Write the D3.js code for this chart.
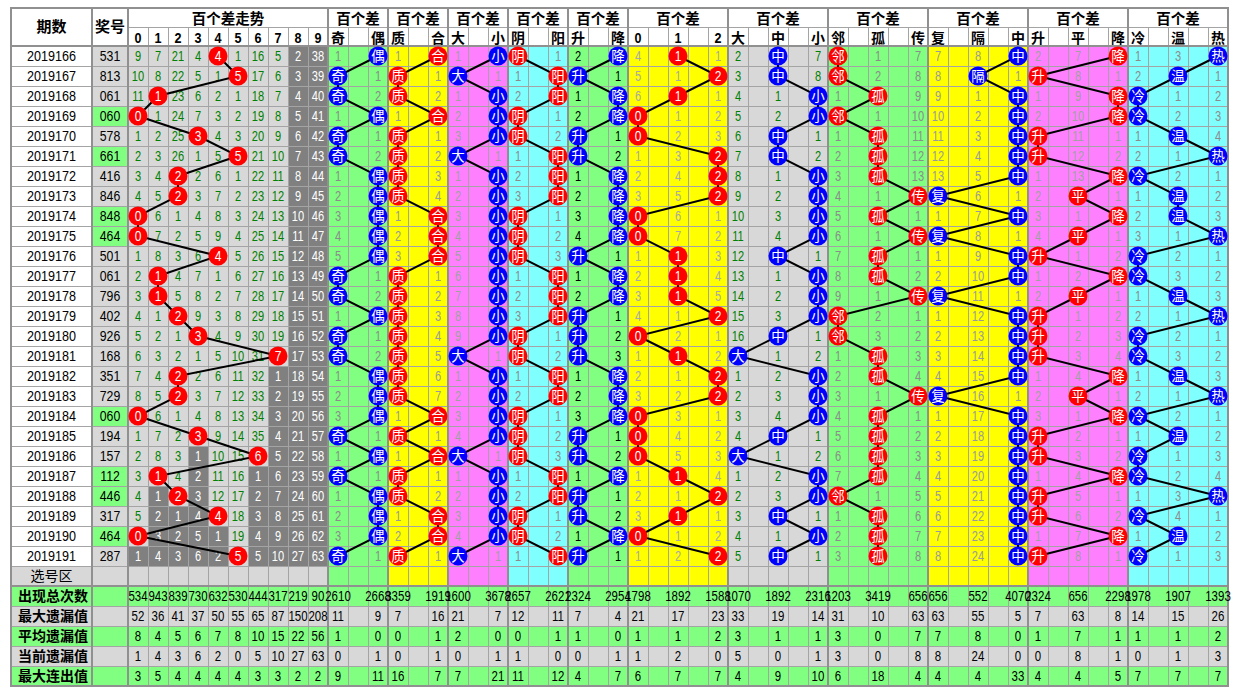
<!DOCTYPE html>
<html lang="zh">
<head>
<meta charset="UTF-8">
<title>百个差走势</title>
<script src="https://d3js.org/d3.v7.min.js"></script>
<style>
  body { margin: 0; background: #fff; }
  svg text { font-family: "Liberation Sans", Arial, sans-serif; }
  svg text.cjk { font-family: "Noto Sans CJK SC", "Noto Sans", sans-serif; }
</style>
</head>
<body>
<svg width="1243" height="698"></svg>
<script>
// ---- data ----
const periods = ['2019166','2019167','2019168','2019169','2019170','2019171','2019172','2019173','2019174',
  '2019175','2019176','2019177','2019178','2019179','2019180','2019181','2019182','2019183','2019184',
  '2019185','2019186','2019187','2019188','2019189','2019190','2019191'];
const draws = ['531','813','061','060','578','661','416','846','848','464','501','061','796','402','926',
  '168','351','729','060','194','157','112','446','317','464','287'];
const diffs = [4,5,1,0,3,5,2,2,0,0,4,1,1,2,3,7,2,2,0,3,6,1,2,4,0,5];

const digitLabels = ['0','1','2','3','4','5','6','7','8','9'];
const oddEven = ['偶','奇','奇','偶','奇','奇','偶','偶','偶','偶','偶','奇','奇','偶','奇','奇','偶','偶','偶','奇','偶','奇','偶','偶','偶','奇'];
const primeComp = ['合','质','质','合','质','质','质','质','合','合','合','质','质','质','质','质','质','质','合','质','合','质','质','合','合','质'];
const bigSmall = ['小','大','小','小','小','大','小','小','小','小','小','小','小','小','小','大','小','小','小','小','大','小','小','小','小','大'];
const yinYang = ['阴','阳','阳','阴','阴','阳','阳','阳','阴','阴','阴','阳','阳','阳','阴','阴','阳','阳','阴','阴','阴','阳','阳','阴','阴','阳'];
const upDown = ['降','升','降','降','升','升','降','降','降','降','升','降','降','升','升','升','降','降','降','升','升','降','升','升','降','升'];
const mod3 = ['1','2','1','0','0','2','2','2','0','0','1','1','1','2','0','1','2','2','0','0','0','1','2','1','0','2'];
const bigMidSmall = ['中','中','小','小','中','中','小','小','小','小','中','小','小','小','中','大','小','小','小','中','大','小','小','中','小','中'];
const adjIsoRep = ['邻','邻','孤','邻','孤','孤','孤','传','孤','传','孤','孤','传','邻','邻','孤','孤','传','孤','孤','孤','孤','邻','孤','孤','孤'];
const repSkipMid = ['中','隔','中','中','中','中','中','复','中','复','中','中','复','中','中','中','中','复','中','中','中','中','中','中','中','中'];
const upFlatDown = ['降','升','降','降','升','升','降','平','降','平','升','降','平','升','升','升','降','平','降','升','升','降','升','升','降','升'];
const coldWarmHot = ['热','温','冷','冷','温','热','冷','温','温','热','冷','冷','温','热','冷','冷','温','热','冷','温','冷','冷','热','冷','温','冷'];

// omission counts carried in from the period before 2019166
const digitBefore = [8,6,20,3,0,0,15,4,1,37];
const oddEvenBefore = [0,0];
const primeCompBefore = [0,0];
const bigSmallBefore = [0,0];
const yinYangBefore = [0,0];
const upDownBefore = [1,0];
const mod3Before = [3,0,0];
const bigMidSmallBefore = [1,0,6];
const adjIsoRepBefore = [0,0,6];
const repSkipMidBefore = [6,7,0];
const upFlatDownBefore = [1,6,0];
const coldWarmHotBefore = [0,2,0];

// bottom statistics, one value per label column (left to right)
const statNames = ['出现总次数','最大遗漏值','平均遗漏值','当前遗漏值','最大连出值'];
const totals = [534,943,839,730,632,530,444,317,219,90, 2610,2668, 3359,1919, 1600,3678, 2657,2621, 2324,2954,
  1798,1892,1588, 1070,1892,2316, 1203,3419,656, 656,552,4070, 2324,656,2298, 1978,1907,1393];
const maxOmit = [52,36,41,37,50,55,65,87,150,208, 11,9, 7,16, 21,7, 12,11, 7,4,
  21,17,23, 33,19,14, 31,10,63, 63,55,5, 7,63,8, 14,15,26];
const avgOmit = [8,4,5,6,7,8,10,15,22,56, 1,0, 0,1, 2,0, 0,1, 1,0,
  1,1,2, 3,1,1, 3,0,7, 7,8,0, 1,7,1, 1,1,2];
const curOmit = [1,4,3,6,2,0,5,10,27,63, 0,1, 0,1, 0,1, 1,0, 0,1,
  1,2,0, 5,0,1, 3,0,8, 8,24,0, 0,8,1, 0,1,3];
const maxRun = [3,5,4,4,4,4,3,3,2,2, 9,11, 16,7, 7,21, 11,12, 4,7,
  6,7,7, 4,9,10, 6,18,4, 4,4,33, 4,4,5, 7,7,7];
const statValues = [totals, maxOmit, avgOmit, curOmit, maxRun];

// ---- colours ----
const green = '#80ff80', yellow = '#ffff00', pink = '#ff80ff', cyan = '#80ffff';
const silver = '#d8d8d8', dark = '#808080', red = '#ff0000', blue = '#0000ff';
const gridC = '#a4a4a4', thickC = '#909090';

const sections = [
  {title: '百个差走势', labels: digitLabels, cols: 10, step: 1, hits: diffs.map(String), before: digitBefore, bg: silver, dot: red, ink: '#008000', shade: true},
  {title: '百个差', labels: ['奇','偶'], cols: 3, step: 2, hits: oddEven, before: oddEvenBefore, bg: green, dot: blue, ink: '#8c8c8c'},
  {title: '百个差', labels: ['质','合'], cols: 3, step: 2, hits: primeComp, before: primeCompBefore, bg: yellow, dot: red, ink: '#9a9a9a'},
  {title: '百个差', labels: ['大','小'], cols: 3, step: 2, hits: bigSmall, before: bigSmallBefore, bg: pink, dot: blue, ink: '#a0a0a0'},
  {title: '百个差', labels: ['阴','阳'], cols: 3, step: 2, hits: yinYang, before: yinYangBefore, bg: cyan, dot: red, ink: '#8c8c8c'},
  {title: '百个差', labels: ['升','降'], cols: 3, step: 2, hits: upDown, before: upDownBefore, bg: green, dot: blue, ink: '#000'},
  {title: '百个差', labels: ['0','1','2'], cols: 5, step: 2, hits: mod3, before: mod3Before, bg: yellow, dot: red, ink: '#a8a8a8'},
  {title: '百个差', labels: ['大','中','小'], cols: 5, step: 2, hits: bigMidSmall, before: bigMidSmallBefore, bg: silver, dot: blue, ink: '#008000'},
  {title: '百个差', labels: ['邻','孤','传'], cols: 5, step: 2, hits: adjIsoRep, before: adjIsoRepBefore, bg: green, dot: red, ink: '#8c8c8c'},
  {title: '百个差', labels: ['复','隔','中'], cols: 5, step: 2, hits: repSkipMid, before: repSkipMidBefore, bg: yellow, dot: blue, ink: '#9a9a9a'},
  {title: '百个差', labels: ['升','平','降'], cols: 5, step: 2, hits: upFlatDown, before: upFlatDownBefore, bg: pink, dot: red, ink: '#a0a0a0'},
  {title: '百个差', labels: ['冷','温','热'], cols: 5, step: 2, hits: coldWarmHot, before: coldWarmHotBefore, bg: cyan, dot: blue, ink: '#8c8c8c'}
];
let colAt = 0;
sections.forEach(s => {
  s.start = colAt;
  colAt += s.cols;
  let prev = s.before;
  s.omit = s.hits.map(h => {
    const row = s.labels.map((lab, j) => lab === h ? 0 : prev[j] + 1);
    prev = row;
    return row;
  });
  s.last = s.labels.map(lab => s.hits.lastIndexOf(lab));
});
const nCols = colAt; // 55

// ---- scales ----
const nRows = periods.length;            // 26 data rows
const pickRow = nRows;                   // 选号区
const x = d3.scaleLinear().domain([0, nCols]).range([128, 1228]);
const y = d3.scaleBand().domain(d3.range(nRows + 1 + statNames.length)).range([46, 686]);
const cw = x(1) - x(0), rh = y.bandwidth();
const tblLeft = 11, tblMid = 92, tblRight = 1228, tblTop = 8, subTop = 27, tblBottom = 686;
const cx = c => x(c) + cw / 2;
const cy = r => y(r) + rh / 2;

const svg = d3.select('svg');

function put(g, px, py, str, o = {}) {
  const t = g.append('text')
    .attr('transform', `translate(${px},${py}) scale(${o.sx || 1},1)`)
    .attr('text-anchor', o.anchor || 'middle')
    .attr('dy', o.dy || '0.36em')
    .attr('font-size', o.size || 14)
    .attr('fill', o.fill || '#000')
    .text(str);
  if (o.bold) t.attr('font-weight', 'bold');
  if (o.cjk) t.attr('class', 'cjk');
  return t;
}

// ---- backgrounds ----
const bg = svg.append('g');
sections.forEach(s => {
  bg.append('rect')
    .attr('x', x(s.start)).attr('y', y(0))
    .attr('width', x(s.start + s.cols) - x(s.start))
    .attr('height', y(pickRow) + rh - y(0))
    .attr('fill', s.bg);
  if (s.shade) {
    s.labels.forEach((lab, j) => {
      const from = s.last[j] + 1;
      if (from >= nRows) return;
      bg.append('rect')
        .attr('x', x(s.start + j)).attr('y', y(from))
        .attr('width', cw).attr('height', y(nRows - 1) + rh - y(from))
        .attr('fill', dark);
    });
  }
});
periods.forEach((p, i) => {
  bg.append('rect').attr('x', tblLeft).attr('y', y(i)).attr('width', tblMid - tblLeft).attr('height', rh).attr('fill', '#fff');
  const pair = new Set(draws[i].split('')).size === 2;
  bg.append('rect').attr('x', tblMid).attr('y', y(i)).attr('width', x(0) - tblMid).attr('height', rh)
    .attr('fill', pair ? green : silver);
});
bg.append('rect').attr('x', tblLeft).attr('y', y(pickRow)).attr('width', x(0) - tblLeft).attr('height', rh).attr('fill', silver);
statNames.forEach((n, k) => {
  bg.append('rect').attr('x', tblLeft).attr('y', y(pickRow + 1 + k)).attr('width', tblRight - tblLeft).attr('height', rh)
    .attr('fill', k % 2 === 0 ? green : silver);
});

// ---- grid ----
const grid = svg.append('g').attr('shape-rendering', 'crispEdges');
d3.range(nRows + 2 + statNames.length).forEach(r => {
  const yy = 46 + r * rh;
  grid.append('line').attr('x1', tblLeft).attr('x2', tblRight).attr('y1', yy + 0.5).attr('y2', yy + 0.5)
    .attr('stroke', gridC);
});
grid.append('line').attr('x1', x(0)).attr('x2', tblRight).attr('y1', subTop + 0.5).attr('y2', subTop + 0.5).attr('stroke', gridC);
d3.range(nCols + 1).forEach(c => {
  grid.append('line').attr('x1', x(c) + 0.5).attr('x2', x(c) + 0.5).attr('y1', subTop).attr('y2', tblBottom)
    .attr('stroke', gridC);
});
const thickX = [tblLeft, tblMid, ...sections.map(s => x(s.start)), tblRight];
thickX.forEach(v => {
  grid.append('line').attr('x1', v).attr('x2', v).attr('y1', tblTop - 1).attr('y2', tblBottom + 1)
    .attr('stroke', thickC).attr('stroke-width', 2);
});
[tblTop, 46, y(pickRow + 1), tblBottom].forEach(v => {
  grid.append('line').attr('x1', tblLeft - 1).attr('x2', tblRight + 1).attr('y1', v).attr('y2', v)
    .attr('stroke', thickC).attr('stroke-width', 2);
});

// ---- headers ----
const head = svg.append('g');
put(head, (tblLeft + tblMid) / 2, (tblTop + 46) / 2, '期数', {cjk: true, bold: true, size: 15});
put(head, (tblMid + x(0)) / 2, (tblTop + 46) / 2, '奖号', {cjk: true, bold: true, size: 15});
sections.forEach(s => {
  put(head, (x(s.start) + x(s.start + s.cols)) / 2, (tblTop + subTop) / 2 + 1, s.title, {cjk: true, bold: true, size: 14.5});
  s.labels.forEach((lab, j) => {
    const isNum = /\d/.test(lab);
    put(head, cx(s.start + j * s.step), (subTop + 46) / 2 + 1, lab,
      isNum ? {bold: true, size: 14, sx: 0.9} : {cjk: true, bold: true, size: 14});
  });
});

// ---- row labels ----
const rowText = svg.append('g');
periods.forEach((p, i) => {
  put(rowText, (tblLeft + tblMid) / 2, cy(i), p, {size: 15, sx: 0.84});
  put(rowText, (tblMid + x(0)) / 2, cy(i), draws[i], {size: 15, sx: 0.82});
});
put(rowText, (tblLeft + tblMid) / 2, cy(pickRow), '选号区', {cjk: true, size: 14});

// ---- omission numbers ----
const nums = svg.append('g');
sections.forEach(s => {
  s.omit.forEach((row, i) => {
    row.forEach((v, j) => {
      if (v === 0) return;
      const shaded = s.shade && i > s.last[j];
      put(nums, cx(s.start + j * s.step), cy(i), v, {size: 15, sx: 0.74, fill: shaded ? '#fff' : s.ink});
    });
  });
});

// ---- statistics ----
const statText = svg.append('g');
const valueCols = sections.flatMap(s => s.labels.map((_, j) => s.start + j * s.step));
statNames.forEach((n, k) => {
  const r = pickRow + 1 + k;
  put(statText, tblLeft + 7, cy(r), n, {cjk: true, bold: true, size: 14, anchor: 'start'});
  statValues[k].forEach((v, c) => {
    put(statText, cx(valueCols[c]), cy(r), v, {size: 14, sx: 0.82});
  });
});

// ---- trend lines and balls ----
const link = d3.line();
sections.forEach(s => {
  const pts = s.hits.map((h, i) => [cx(s.start + s.labels.indexOf(h) * s.step), cy(i)]);
  svg.append('path').attr('d', link(pts)).attr('fill', 'none').attr('stroke', '#000').attr('stroke-width', 2);
  const balls = svg.append('g');
  pts.forEach((p, i) => {
    balls.append('circle').attr('cx', p[0]).attr('cy', p[1]).attr('r', 9.5).attr('fill', s.dot);
    const lab = s.hits[i];
    if (/\d/.test(lab)) put(balls, p[0], p[1], lab, {size: 14, sx: 0.86, fill: '#fff'});
    else put(balls, p[0], p[1], lab, {cjk: true, size: 13.5, fill: '#fff'});
  });
});
</script>
</body>
</html>
